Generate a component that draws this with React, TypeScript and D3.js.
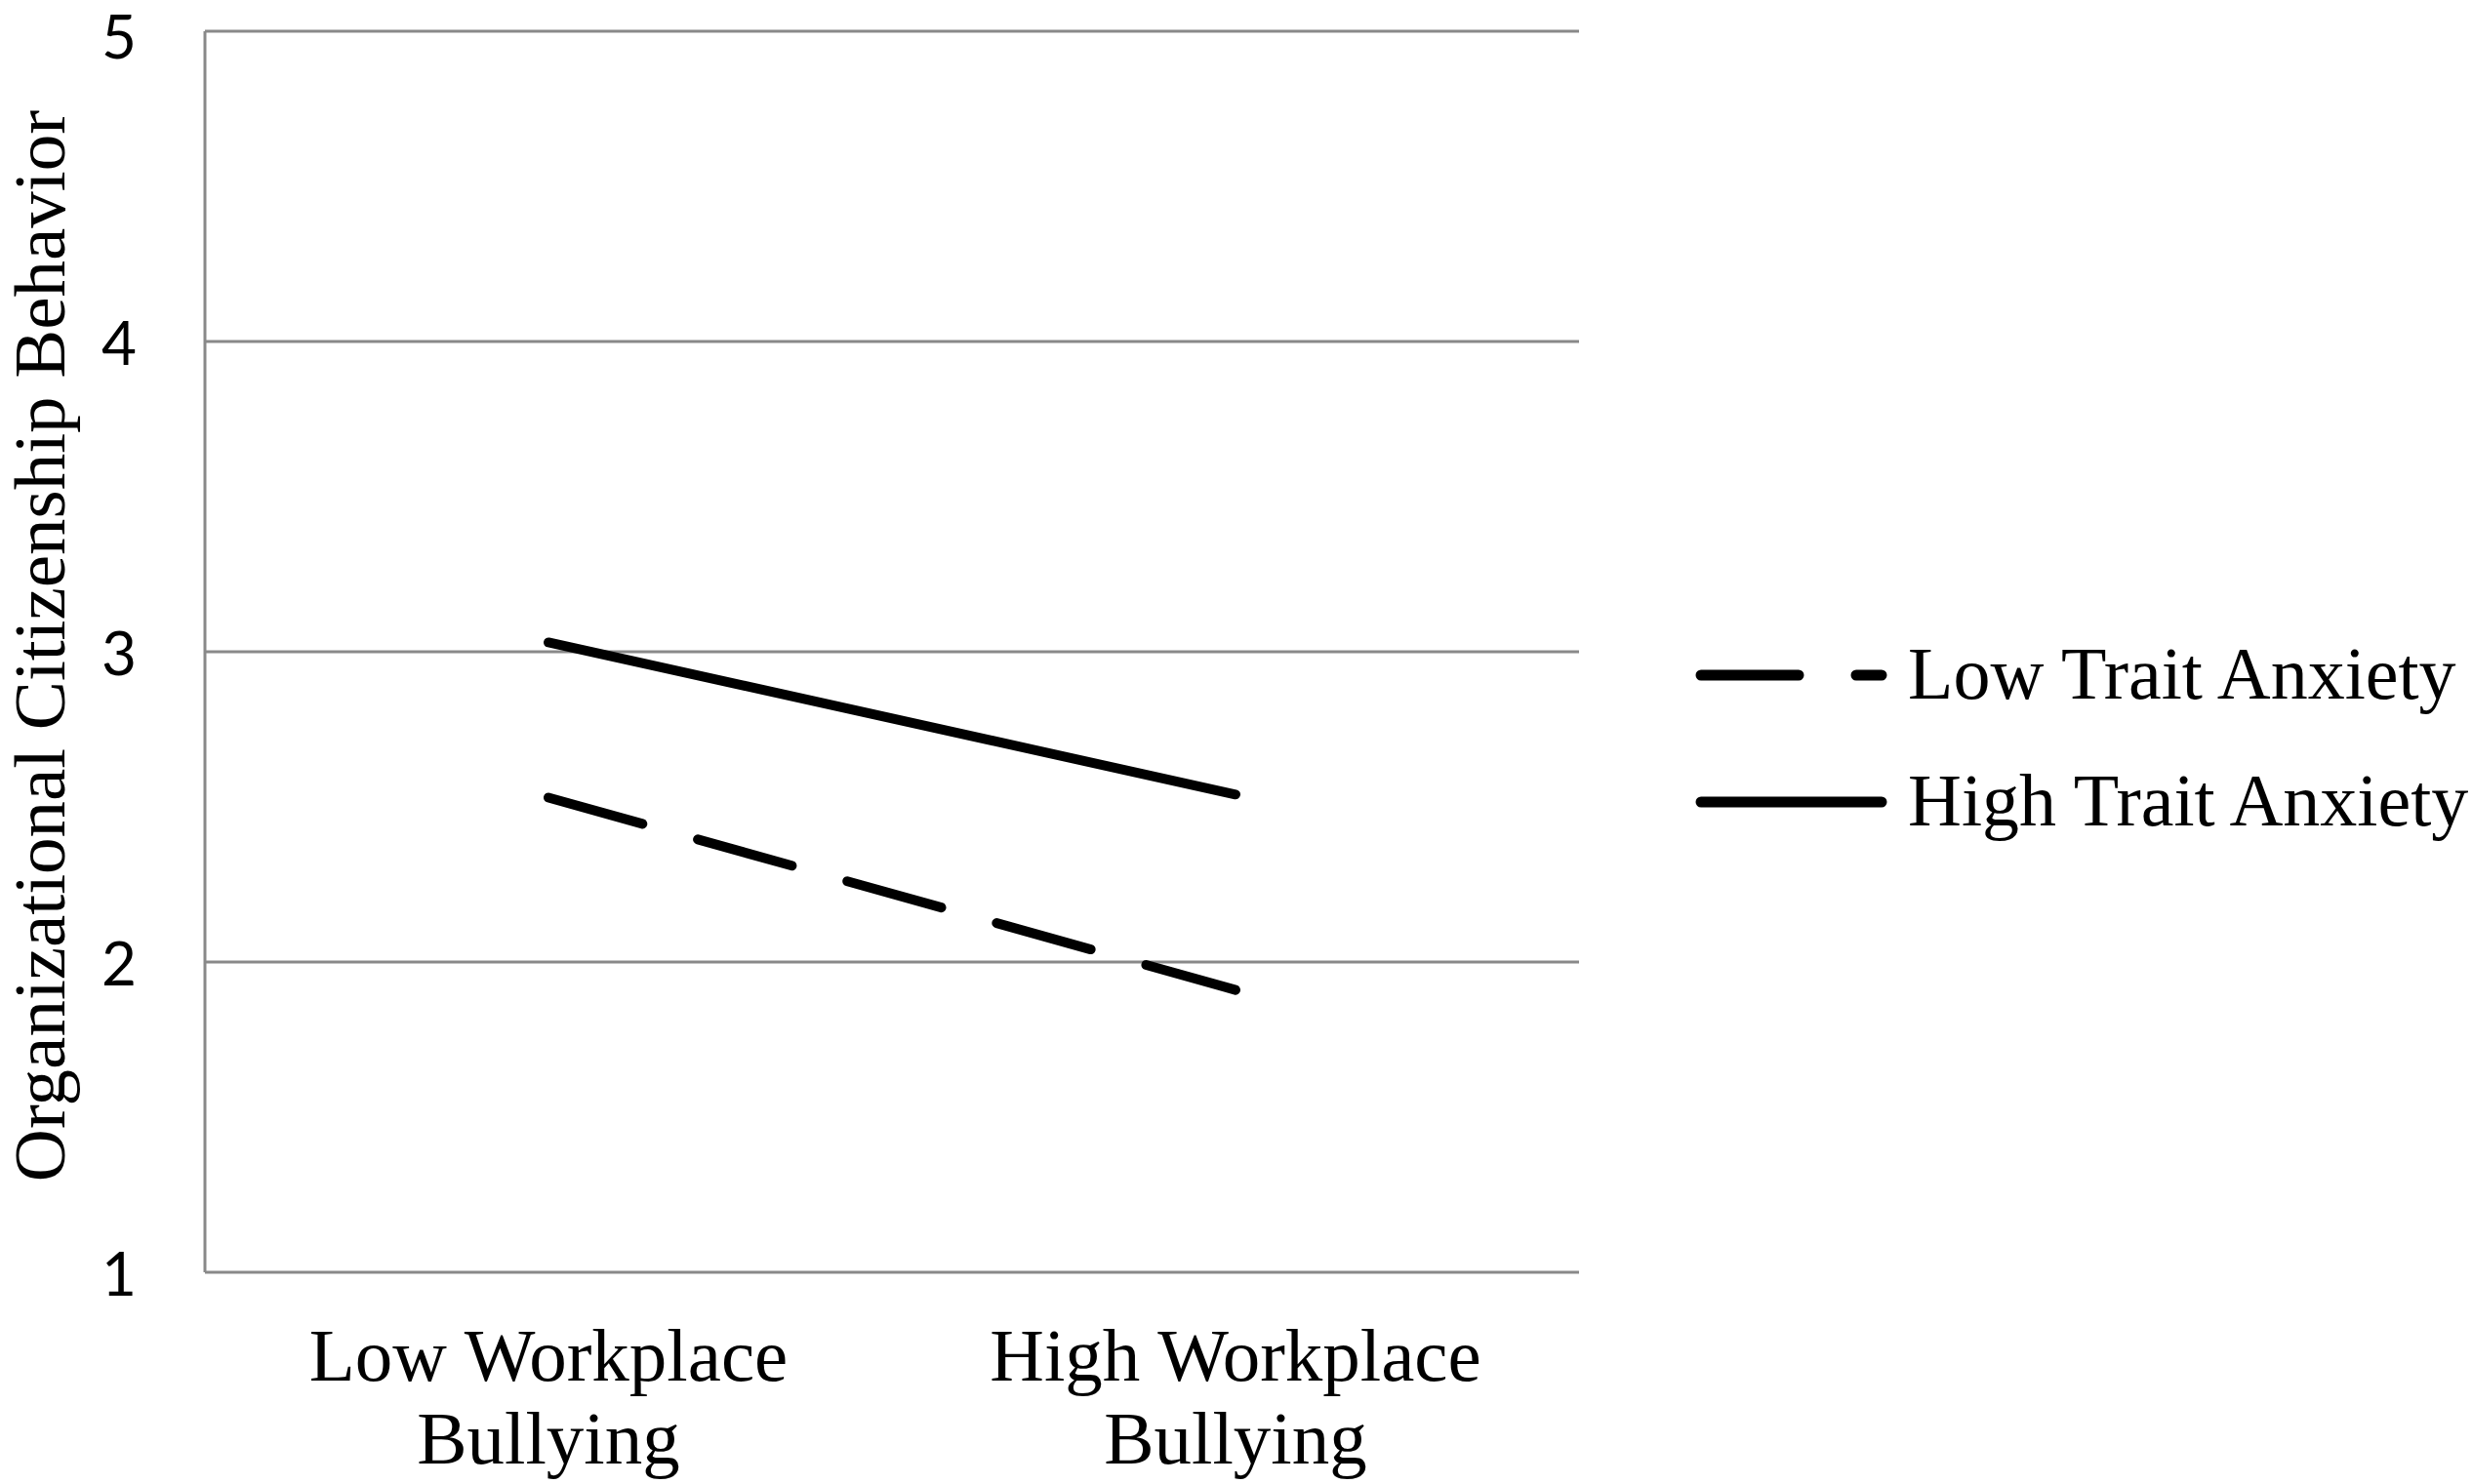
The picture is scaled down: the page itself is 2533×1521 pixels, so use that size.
import React from "react";
import * as d3 from "d3";

const categories = ["Low Workplace|Bullying", "High Workplace|Bullying"];
const lowAnxiety = [2.53, 1.91];
const highAnxiety = [3.03, 2.54];
const yTicks = [1, 2, 3, 4, 5];
const seriesNames = ["Low Trait Anxiety", "High Trait Anxiety"];

const W = 2533, H = 1521;
const left = 210, right = 1618, top = 32, bottom = 1304;

export default function App() {
  const x = d3.scalePoint<string>().domain(categories).range([left, right]).padding(0.5);
  const y = d3.scaleLinear().domain([1, 5]).range([bottom, top]);
  const line = d3.line<number>().x((_, i) => x(categories[i]) as number).y((d) => y(d));
  const serif = "'Liberation Serif', 'Times New Roman', serif";
  const sans = "Lato, 'Open Sans', sans-serif";
  const grid = "#898989";
  const series = [
    { name: seriesNames[0], values: lowAnxiety, dash: "100 59" },
    { name: seriesNames[1], values: highAnxiety, dash: "none" },
  ];
  const legendY = [692, 822];
  return (
    <svg width={W} height={H} style={{ position: "absolute", left: 0, top: 0, background: "#fff" }}>
      <rect x={0} y={0} width={W} height={H} fill="#fff" />
      {yTicks.filter((t) => t > 1).map((t) => (
        <line key={t} x1={left} x2={right} y1={y(t)} y2={y(t)} stroke={grid} strokeWidth={3} />
      ))}
      <line x1={left} x2={right} y1={y(1)} y2={y(1)} stroke={grid} strokeWidth={3} />
      <line x1={left} x2={left} y1={y(5)} y2={y(1)} stroke={grid} strokeWidth={3} />
      {yTicks.map((t) => (
        <text key={t} x={140} y={Math.max(y(t), 36)} textAnchor="end" dominantBaseline="central" fontFamily={sans} fontSize={62} fill="#000">
          {t}
        </text>
      ))}
      <text
        transform={`translate(66, 662) rotate(-90)`}
        textAnchor="middle"
        fontFamily={serif}
        fontSize={75}
        fill="#000"
      >
        Organizational Citizenship Behavior
      </text>
      {categories.map((c) => {
        const [l1, l2] = c.split("|");
        return (
          <g key={c}>
            <text x={x(c)} y={1415} textAnchor="middle" fontFamily={serif} fontSize={77} fill="#000">{l1}</text>
            <text x={x(c)} y={1500} textAnchor="middle" fontFamily={serif} fontSize={77} fill="#000">{l2}</text>
          </g>
        );
      })}
      {series.map((s) => (
        <path key={s.name} d={line(s.values) || ""} fill="none" stroke="#000" strokeWidth={10}
          strokeLinecap="round" strokeDasharray={s.dash} />
      ))}
      {series.map((s, i) => (
        <g key={s.name}>
          <line x1={1743} x2={1928} y1={legendY[i]} y2={legendY[i]} stroke="#000" strokeWidth={11}
            strokeLinecap="round" strokeDasharray={s.dash} />
          <text x={1955} y={legendY[i] + 24} fontFamily={serif} fontSize={76} fill="#000">{s.name}</text>
        </g>
      ))}
    </svg>
  );
}
